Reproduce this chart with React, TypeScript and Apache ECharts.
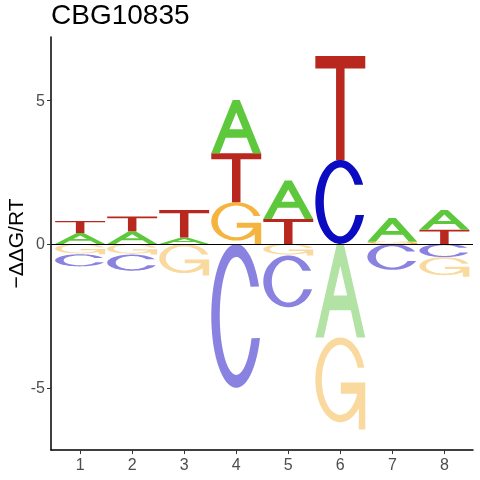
import { useEffect, useRef } from "react";
import * as echarts from "echarts";

const titleText = "CBG10835";
const yAxisTitle = "−ΔΔG/RT";
const positions = [1, 2, 3, 4, 5, 6, 7, 8];
const xTickValues = [1, 2, 3, 4, 5, 6, 7, 8];
const yTickValues = [-5, 0, 5];

// positive stacks, from the zero line upward
const posLetters = [["A", "T"], ["A", "T"], ["A", "T"], ["G", "T", "A"], ["T", "A"], ["C", "T"], ["G", "A"], ["T", "A"]];
const posHeights = [[0.38, 0.42], [0.44, 0.51], [0.22, 0.96], [1.45, 1.7, 1.85], [0.87, 1.33], [2.92, 3.61], [0.08, 0.82], [0.49, 0.69]];
// negative stacks, from the zero line downward
const negLetters = [["G", "C"], ["G", "C"], ["G"], ["C"], ["G", "C"], ["A", "G"], ["C"], ["C", "G"]];
const negHeights = [[0.36, 0.42], [0.37, 0.56], [1.1], [5.0], [0.4, 1.8], [3.25, 3.2], [0.9], [0.46, 0.68]];

const posColors: Record<string, string> = { A: "#5DC83B", C: "#0B0BC2", G: "#F5B43F", T: "#B8281E" };
const negColors: Record<string, string> = { A: "#B2E3A4", C: "#8A82E0", G: "#F9D99E", T: "#DE9A94" };

const FONT = "'Liberation Sans', Arial, Helvetica, sans-serif";
const HALF = 0.48;

type Pt = [number, number];
const arc = (cy: number, rx: number, ry: number, a0: number, a1: number, n: number): Pt[] => {
  const pts: Pt[] = [];
  for (let k = 0; k <= n; k++) {
    const a = ((a0 + ((a1 - a0) * k) / n) * Math.PI) / 180;
    pts.push([50 + rx * Math.cos(a), cy - ry * Math.sin(a)]);
  }
  return pts;
};

const GLYPHS: Record<string, Pt[][]> = {
  T: [[[0, 0], [100, 0], [100, 12], [58.5, 12], [58.5, 100], [41.5, 100], [41.5, 12], [0, 12]]],
  A: [
    [[0, 100], [43, 0], [57, 0], [100, 100], [83, 100], [71.1, 71], [28.9, 71], [17, 100]],
    [[36.4, 55], [63.6, 55], [50, 23.3]],
  ],
  C: [[...arc(50, 50, 50, 24, 342, 60), ...arc(50, 33, 41, 337.8, 29.7, 50)]],
  G: [[
    ...arc(46, 50, 46, 16.4, 317.7, 60),
    [87, 100], [100, 100], [100, 49], [51, 49], [51, 61], [84, 61],
    ...arc(46, 37, 38, 336.8, 20, 50),
  ]],
};

const glyphPath = (letter: string, x0: number, y0: number, w: number, h: number) =>
  GLYPHS[letter]
    .map(
      (sp) =>
        "M" +
        sp.map(([u, v]) => `${(x0 + (u * w) / 100).toFixed(2)},${(y0 + (v * h) / 100).toFixed(2)}`).join("L") +
        "Z"
    )
    .join(" ");

type Rect = { pos: number; y0: number; y1: number; letter: string; color: string };
const buildRects = (): Rect[] => {
  const out: Rect[] = [];
  positions.forEach((p, i) => {
    let cum = 0;
    posLetters[i].forEach((l, j) => {
      const hgt = posHeights[i][j];
      out.push({ pos: p, y0: cum, y1: cum + hgt, letter: l, color: posColors[l] });
      cum += hgt;
    });
    cum = 0;
    negLetters[i].forEach((l, j) => {
      const hgt = negHeights[i][j];
      out.push({ pos: p, y0: -cum - hgt, y1: -cum, letter: l, color: negColors[l] });
      cum += hgt;
    });
  });
  return out;
};

export default function App() {
  const ref = useRef<HTMLDivElement>(null);
  useEffect(() => {
    if (!ref.current) return;
    const chart = echarts.init(ref.current, null, { renderer: "svg" });
    const rects = buildRects();
    chart.setOption({
      animation: false,
      title: {
        text: titleText,
        left: 51,
        top: 0,
        padding: 0,
        textStyle: { fontFamily: FONT, fontSize: 28, fontWeight: "normal", color: "#000" },
      },
      grid: { left: 51, right: 7, top: 37, bottom: 30, containLabel: false, outerBoundsMode: "none" },
      xAxis: {
        type: "value",
        min: 0.44,
        max: 8.55,
        axisLine: { show: true, onZero: false, lineStyle: { color: "#000", width: 1.5 } },
        axisTick: { show: true, customValues: xTickValues, length: 4, lineStyle: { color: "#333", width: 1 } },
        axisLabel: { customValues: xTickValues, color: "#4D4D4D", fontSize: 16, fontFamily: FONT, margin: 6 },
        splitLine: { show: false },
      },
      yAxis: {
        type: "value",
        min: -7.16,
        max: 7.19,
        name: yAxisTitle,
        nameLocation: "middle",
        nameGap: 25,
        nameMoveOverlap: false,
        nameTextStyle: { fontFamily: FONT, fontSize: 21, color: "#000" },
        axisLine: { show: true, onZero: false, lineStyle: { color: "#000", width: 1.5 } },
        axisTick: { show: true, customValues: yTickValues, length: 4, lineStyle: { color: "#333", width: 1 } },
        axisLabel: { customValues: yTickValues, color: "#4D4D4D", fontSize: 16, fontFamily: FONT, margin: 6 },
        splitLine: { show: false },
      },
      series: [
        {
          type: "custom",
          silent: true,
          data: rects.map((r) => [r.pos, r.y0, r.y1]),
          renderItem: (params: any, api: any) => {
            const r = rects[params.dataIndex];
            const tl = api.coord([api.value(0) - HALF, api.value(2)]);
            const br = api.coord([api.value(0) + HALF, api.value(1)]);
            const d = glyphPath(r.letter, tl[0], tl[1], br[0] - tl[0], br[1] - tl[1]);
            return { type: "path", shape: { pathData: d }, style: { fill: r.color } };
          },
          markLine: {
            silent: true,
            symbol: "none",
            label: { show: false },
            lineStyle: { color: "#000", width: 1, type: "solid" },
            data: [{ yAxis: 0 }],
          },
        },
      ],
    });
    return () => chart.dispose();
  }, []);
  return <div ref={ref} style={{ position: "fixed", left: 0, top: 0, width: 480, height: 480 }} />;
}
